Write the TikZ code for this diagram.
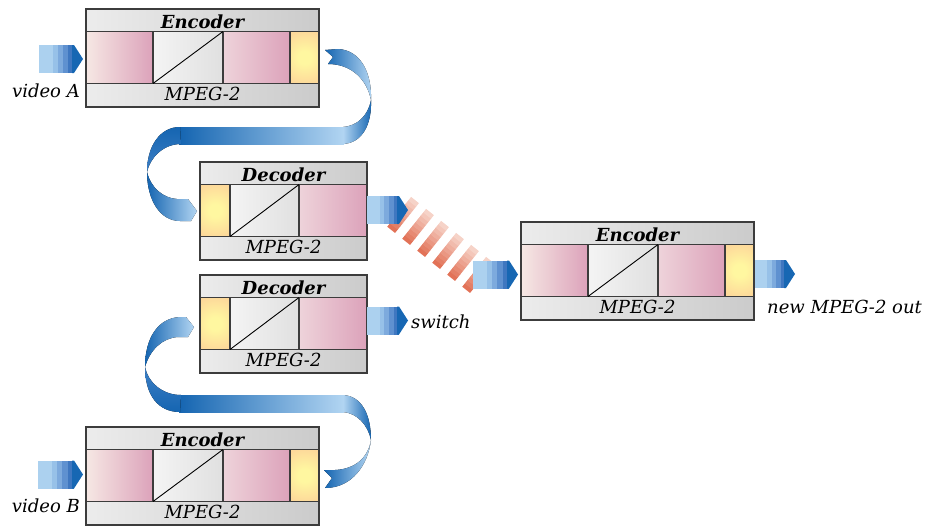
\documentclass[tikz,border=0pt]{standalone}
\usepackage{fontspec}
\setmainfont{DejaVu Serif}

% palette
\definecolor{frameC}{HTML}{3C3C3C}
\definecolor{bandL}{HTML}{ECECEC}
\definecolor{bandR}{HTML}{CBCBCB}
\definecolor{pinkL}{HTML}{F6E8E4}
\definecolor{pinkM}{HTML}{EED3DA}
\definecolor{pinkD}{HTML}{DCA2BA}
\definecolor{convL}{HTML}{F4F4F4}
\definecolor{convD}{HTML}{E0E0E0}
\definecolor{yelIn}{HTML}{FFF7A0}
\definecolor{yelOut}{HTML}{FDD89A}
\definecolor{ribD}{HTML}{1565B1}
\definecolor{ribM}{HTML}{3D7FC5}
\definecolor{ribL}{HTML}{B2D5F2}
\definecolor{arrA}{HTML}{ACD1EF}
\definecolor{arrB}{HTML}{97C1E8}
\definecolor{arrC}{HTML}{7DAADD}
\definecolor{arrD}{HTML}{5F91D0}
\definecolor{arrE}{HTML}{3F77C0}
\definecolor{arrF}{HTML}{1767B3}
\definecolor{hatchL}{HTML}{F6D3C8}
\definecolor{hatchD}{HTML}{E27257}

% soft yellow glow, flat beyond its inner part
\pgfdeclareradialshading{cellglow}{\pgfpoint{0bp}{0bp}}{%
  color(0bp)=(yelIn); color(4bp)=(yelIn); color(17bp)=(yelOut); color(50bp)=(yelOut)}

\tikzset{
  unitline/.style={draw=frameC, line width=1.2pt},
  titletext/.style={font=\fontsize{18}{21}\selectfont\bfseries\itshape, anchor=base, inner sep=0pt},
  subtext/.style={font=\fontsize{18}{21}\selectfont\itshape, anchor=base, inner sep=0pt},
  labeltext/.style={font=\fontsize{18}{21}\selectfont\itshape, inner sep=0pt},
}

% glowing yellow cell: #1,#2 = left/right x
\newcommand\glowcell[2]{%
  \begin{scope}
    \clip (#1,22.5) rectangle (#2,74.5);
    \fill[shading=cellglow] ({(#1+#2)/2},48.5) circle[radius=40];
  \end{scope}}

% codec frame with title band and MPEG-2 band; #1 name, #2 width, #3 title
\newcommand\unitframe[3]{%
  \fill[left color=bandL, right color=bandR] (0,0) rectangle (#2,98);
  \node[titletext] (#1-title) at ({#2/2},19) {#3};
  \node[subtext] (#1-sub) at ({#2/2},91) {MPEG-2};}

% encoder: pink | converter | pink | glow
\newcommand\encoderunit[3]{%
  \begin{scope}[shift={(#2,#3)}]
    \unitframe{#1}{233}{Encoder}
    \fill[left color=pinkL, right color=pinkD] (0,22.5) rectangle (67,74.5);
    \fill[left color=convL, right color=convD] (67,22.5) rectangle (137,74.5);
    \fill[left color=pinkM, right color=pinkD] (137,22.5) rectangle (204,74.5);
    \glowcell{204}{233}
    \draw[unitline] (0,22.5) -- (233,22.5) (0,74.5) -- (233,74.5)
      (67,22.5) -- (67,74.5) (137,22.5) -- (137,74.5) (204,22.5) -- (204,74.5);
    \draw[draw=black, line width=0.9pt] (67,74.5) -- (137,22.5);
    \draw[unitline] (0,0) rectangle (233,98);
  \end{scope}}

% decoder: glow | converter | pink
\newcommand\decoderunit[3]{%
  \begin{scope}[shift={(#2,#3)}]
    \unitframe{#1}{167}{Decoder}
    \glowcell{0}{30}
    \fill[left color=convL, right color=convD] (30,22.5) rectangle (99,74.5);
    \fill[left color=pinkM, right color=pinkD] (99,22.5) rectangle (167,74.5);
    \draw[unitline] (0,22.5) -- (167,22.5) (0,74.5) -- (167,74.5)
      (30,22.5) -- (30,74.5) (99,22.5) -- (99,74.5);
    \draw[draw=black, line width=0.9pt] (30,74.5) -- (99,22.5);
    \draw[unitline] (0,0) rectangle (167,98);
  \end{scope}}

% banded block arrow: #1 left x, #2 tip x, #3 centre y
\newcommand\blockarrow[3]{%
  \pgfmathsetmacro\xa{#1}%
  \pgfmathsetmacro\xb{#2-9}%
  \pgfmathsetmacro\ln{\xb-\xa}%
  \fill[arrA] ({\xa},{#3-14}) rectangle ({\xb},{#3+14});
  \fill[arrB] ({\xa+0.40*\ln},{#3-14}) rectangle ({\xb},{#3+14});
  \fill[arrC] ({\xa+0.54*\ln},{#3-14}) rectangle ({\xb},{#3+14});
  \fill[arrD] ({\xa+0.68*\ln},{#3-14}) rectangle ({\xb},{#3+14});
  \fill[arrE] ({\xa+0.83*\ln},{#3-14}) rectangle ({\xb},{#3+14});
  \fill[arrF] ({\xb-2},{#3-14}) -- ({\xb},{#3-14}) -- ({#2},{#3}) -- ({\xb},{#3+14}) -- ({\xb-2},{#3+14}) -- cycle;}

\begin{document}
\begin{tikzpicture}[x=1pt, y=-1pt]
  \useasboundingbox (0,0) rectangle (931,525);

  % hatched switch-over link
  \foreach \k in {0,...,5}{
    \foreach \j in {0,...,8}{
      \pgfmathsetmacro\cx{403+15*\k}
      \pgfmathsetmacro\cy{215+12*\k}
      \pgfmathsetmacro\sa{-19+4.2*\j}
      \pgfmathsetmacro\sb{\sa+4.6}
      \pgfmathtruncatemacro\pct{100-12.5*\j}
      \fill[hatchD!\pct!hatchL]
        ({\cx-5*0.781+(\sa)*0.625},{\cy-5*0.625-(\sa)*0.781}) --
        ({\cx+5*0.781+(\sa)*0.625},{\cy+5*0.625-(\sa)*0.781}) --
        ({\cx+5*0.781+(\sb)*0.625},{\cy+5*0.625-(\sb)*0.781}) --
        ({\cx-5*0.781+(\sb)*0.625},{\cy-5*0.625-(\sb)*0.781}) -- cycle;
    }
  }

  % codec units
  \encoderunit{encA}{86}{9}
  \decoderunit{decA}{200}{162}
  \decoderunit{decB}{200}{275}
  \encoderunit{encB}{86}{427}
  \encoderunit{encC}{521}{222}

  % ribbon from encoder A to decoder A
  \fill[left color=ribD, right color=ribL] (325,50) -- (333,57) -- (328,64)
    .. controls (352,64) and (367,80) .. (371,100)
    .. controls (372,72) and (360,50) .. (338,49) -- cycle;
  \fill[left color=ribL, right color=ribD] (371,100)
    .. controls (372,125) and (362,143) .. (343,144) -- (343,127)
    .. controls (357,126) and (368,116) .. (371,100) -- cycle;
  \fill[left color=ribD, right color=ribL] (179,127) rectangle (344,144);
  \fill[top color=ribD, bottom color=ribM] (180,127)
    .. controls (160,127) and (147,146) .. (147,172)
    .. controls (150,158) and (163,144) .. (181,144) -- cycle;
  \fill[left color=ribD, right color=ribL] (147,172)
    .. controls (147,200) and (160,221) .. (180,221) -- (191,221) -- (197,211) -- (188,199) -- (177,199)
    .. controls (163,198) and (151,188) .. (147,172) -- cycle;

  % ribbon from encoder B to decoder B
  \fill[left color=ribD, right color=ribL] (324,470) -- (332,478) -- (325,488)
    .. controls (352,488) and (368,465) .. (371,440)
    .. controls (368,458) and (355,469) .. (335,470) -- cycle;
  \fill[left color=ribL, right color=ribD] (371,440)
    .. controls (371,415) and (362,396) .. (343,395) -- (343,412)
    .. controls (357,413) and (368,425) .. (371,440) -- cycle;
  \fill[left color=ribD, right color=ribL] (179,395) rectangle (344,412);
  \fill[bottom color=ribD, top color=ribM] (180,412)
    .. controls (158,412) and (145,395) .. (145,367)
    .. controls (148,382) and (162,395) .. (181,395) -- cycle;
  \fill[left color=ribD, right color=ribL] (145,367)
    .. controls (145,338) and (158,318) .. (180,317) -- (186,317) -- (194,327) -- (188,337) -- (178,337)
    .. controls (162,338) and (150,350) .. (145,367) -- cycle;

  % straight feeds
  \blockarrow{39}{83}{59}
  \blockarrow{38}{83}{474.5}
  \blockarrow{367}{408}{210}
  \blockarrow{367}{408}{320.5}
  \blockarrow{473}{518}{274.5}
  \blockarrow{755}{795}{274}

  % labels
  \node[labeltext, anchor=base east] (lblA) at (80,97) {video A};
  \node[labeltext, anchor=base east] (lblB) at (80,512) {video B};
  \node[labeltext, anchor=base west] (lblSw) at (411,328) {switch};
  \node[labeltext, anchor=base west] (lblOut) at (767,313) {new MPEG-2 out};
\end{tikzpicture}
\end{document}
